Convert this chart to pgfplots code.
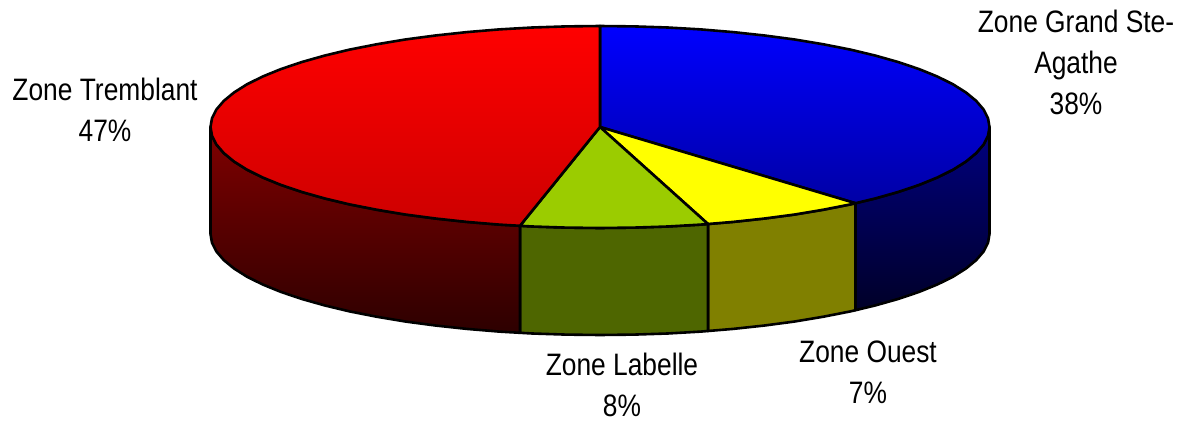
\documentclass[border=0pt]{standalone}
\usepackage{pgfplots}
\pgfplotsset{compat=1.18}
\usepackage{fontspec}
\setmainfont[FakeStretch=0.85]{Liberation Sans}
\definecolor{bluetop}{RGB}{0,0,255}
\definecolor{bluebot}{RGB}{0,0,165}
\definecolor{redtop}{RGB}{255,0,0}
\definecolor{redbot}{RGB}{205,0,0}
\definecolor{blueside1}{RGB}{0,0,128}
\definecolor{blueside2}{RGB}{0,0,40}
\definecolor{redside1}{RGB}{128,0,0}
\definecolor{redside2}{RGB}{45,0,0}
\definecolor{limetop}{RGB}{155,204,0}
\definecolor{limeside}{RGB}{78,102,0}
\definecolor{olive2}{RGB}{128,128,0}
\definecolor{yellow2}{RGB}{255,255,0}
\tikzset{pie edge/.style={draw=black,line width=2.6bp,line join=round}}
\begin{document}
\begin{tikzpicture}[x=1bp,y=1bp]
\begin{axis}[
  width=1189bp,height=422bp,scale only axis,
  xmin=0,xmax=1189,ymin=0,ymax=422,y dir=reverse,
  hide axis,clip=false,no markers
]
\path (axis cs:0,0) (axis cs:1189,422);
% side walls
\addplot[pie edge,top color=blueside1,bottom color=blueside2] coordinates {
(989.5,127)(988.0,135.8)(983.6,144.5)(976.2,153.1)(966.0,161.5)(953.0,169.7)(937.3,177.5)(919.1,184.9)(898.4,191.9)(875.4,198.4)(855.5,203.2)
(855.5,310.2)(875.4,305.4)(898.4,298.9)(919.1,291.9)(937.3,284.5)(953.0,276.7)(966.0,268.5)(976.2,260.1)(983.6,251.5)(988.0,242.8)(989.5,234)
} --cycle;
\addplot[pie edge,fill=olive2] coordinates {
(855.5,203.2)(850.4,204.4)(823.4,209.7)(794.8,214.5)(764.6,218.5)(733.2,221.9)(708,224)
(708,331)(733.2,328.9)(764.6,325.5)(794.8,321.5)(823.4,316.7)(850.4,311.4)(855.5,310.2)
} --cycle;
\addplot[pie edge,fill=limeside] coordinates {
(708,224)(700.8,224.6)(667.6,226.5)(633.9,227.6)(600,228)(566.1,227.6)(532.4,226.5)(520,225.8)
(520,332.8)(532.4,333.5)(566.1,334.6)(600,335)(633.9,334.6)(667.6,333.5)(700.8,331.6)(708,331)
} --cycle;
\addplot[pie edge,top color=redside1,bottom color=redside2] coordinates {
(520,225.8)(499.2,224.6)(466.8,221.9)(435.4,218.5)(405.2,214.5)(376.6,209.7)(349.6,204.4)(324.6,198.4)(301.6,191.9)(280.9,184.9)(262.7,177.5)(247.0,169.7)(234.0,161.5)(223.8,153.1)(216.4,144.5)(212.0,135.8)(210.5,127)
(210.5,234)(212.0,242.8)(216.4,251.5)(223.8,260.1)(234.0,268.5)(247.0,276.7)(262.7,284.5)(280.9,291.9)(301.6,298.9)(324.6,305.4)(349.6,311.4)(376.6,316.7)(405.2,321.5)(435.4,325.5)(466.8,328.9)(499.2,331.6)(520,332.8)
} --cycle;
% top faces
\addplot[pie edge,top color=bluetop,bottom color=bluebot] coordinates {
(600,127)(600,26)(633.9,26.4)(667.6,27.5)(700.8,29.4)(733.2,32.1)(764.6,35.5)(794.8,39.5)(823.4,44.3)(850.4,49.6)(875.4,55.6)(898.4,62.1)(919.1,69.1)(937.3,76.5)(953.0,84.3)(966.0,92.5)(976.2,100.9)(983.6,109.5)(988.0,118.2)(989.5,127)
(988.0,135.8)(983.6,144.5)(976.2,153.1)(966.0,161.5)(953.0,169.7)(937.3,177.5)(919.1,184.9)(898.4,191.9)(875.4,198.4)(855.5,203.2)
} --cycle;
\addplot[pie edge,fill=yellow2] coordinates {
(600,127)(855.5,203.2)(850.4,204.4)(823.4,209.7)(794.8,214.5)(764.6,218.5)(733.2,221.9)(708,224)
} --cycle;
\addplot[pie edge,fill=limetop] coordinates {
(600,127)(708,224)(700.8,224.6)(667.6,226.5)(633.9,227.6)(600,228)(566.1,227.6)(532.4,226.5)(520,225.8)
} --cycle;
\addplot[pie edge,top color=redtop,bottom color=redbot] coordinates {
(600,127)(520,225.8)(499.2,224.6)(466.8,221.9)(435.4,218.5)(405.2,214.5)(376.6,209.7)(349.6,204.4)(324.6,198.4)(301.6,191.9)(280.9,184.9)(262.7,177.5)(247.0,169.7)(234.0,161.5)(223.8,153.1)(216.4,144.5)(212.0,135.8)(210.5,127)
(212.0,118.2)(216.4,109.5)(223.8,100.9)(234.0,92.5)(247.0,84.3)(262.7,76.5)(280.9,69.1)(301.6,62.1)(324.6,55.6)(349.6,49.6)(376.6,44.3)(405.2,39.5)(435.4,35.5)(466.8,32.1)(499.2,29.4)(532.4,27.5)(566.1,26.4)(600,26)
} --cycle;
% labels
\node[align=center,font=\fontsize{31bp}{41bp}\selectfont] at (axis cs:105,109.5) {Zone Tremblant\\47\%};
\node[align=center,font=\fontsize{31bp}{41bp}\selectfont] at (axis cs:1076,62) {Zone Grand Ste-\\Agathe\\38\%};
\node[align=center,font=\fontsize{31bp}{41bp}\selectfont] at (axis cs:622,385) {Zone Labelle\\8\%};
\node[align=center,font=\fontsize{31bp}{41bp}\selectfont] at (axis cs:868,372) {Zone Ouest\\7\%};
\end{axis}
\end{tikzpicture}
\end{document}
